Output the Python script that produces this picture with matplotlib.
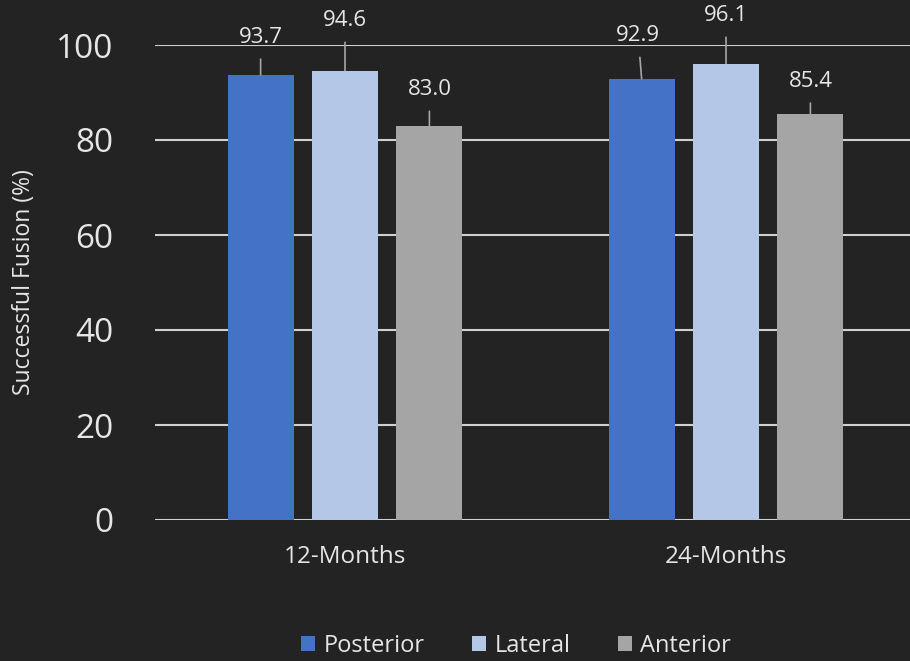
import matplotlib
matplotlib.use("Agg")
import matplotlib.pyplot as plt
from matplotlib.patches import Patch
import numpy as np

# fusion rates by approach at each follow-up
periods = ['12-Months', '24-Months']
series = ['Posterior', 'Lateral', 'Anterior']
posterior = [93.7, 92.9]
lateral = [94.6, 96.1]
anterior = [83.0, 85.4]

BG = '#232323'
TXT = '#e6e6e6'
GRID = '#d0d0d0'
LEADER = '#a6a6a6'
colors = ['#4472C4', '#B4C7E7', '#A5A5A5']

# label offsets (points) from each bar top, order: series x period
label_offsets = [
    [(0, 23), (-2.5, 27)],
    [(0, 32), (0, 30.6)],
    [(0, 22), (0, 19.7)],
]

plt.rcParams['font.family'] = ['Open Sans', 'DejaVu Sans']

fig = plt.figure(figsize=(9.1, 6.61), dpi=100, facecolor=BG)
ax = fig.add_axes([155 / 910, 1 - 520 / 661, 755 / 910, 475 / 661])
ax.set_facecolor(BG)

x = np.arange(len(periods))
width = 0.173
step = 0.2215
values = [posterior, lateral, anterior]
for i, (name, vals) in enumerate(zip(series, values)):
    xs = x + (i - 1) * step
    ax.bar(xs, vals, width, color=colors[i], label=name, zorder=3)
    for j, v in enumerate(vals):
        dx, dy = label_offsets[i][j]
        ax.annotate('%.1f' % v, xy=(xs[j], v), xytext=(dx, dy),
                    textcoords='offset points', ha='center', va='baseline',
                    fontsize=16, color=TXT, annotation_clip=False,
                    arrowprops=dict(arrowstyle='-', color=LEADER, lw=1.2,
                                    shrinkA=6, shrinkB=0))

ax.set_xlim(-0.4987, 1.4829)
ax.set_ylim(0, 100)
ax.set_yticks(range(0, 101, 20))
ax.yaxis.grid(True, color=GRID, linewidth=1.5, zorder=0)
ax.set_axisbelow(True)
for s in ax.spines.values():
    s.set_visible(False)
ax.set_xticks(x)
ax.set_xticklabels(periods)
ax.tick_params(axis='x', length=0, pad=18, labelsize=17.5, colors=TXT)
ax.tick_params(axis='y', length=0, pad=30, labelsize=24, colors=TXT)
ax.set_ylabel('Successful Fusion (%)', fontsize=16.5, color=TXT)
ax.yaxis.set_label_coords(-0.158, 0.5)

handles = [Patch(facecolor=c, edgecolor='none') for c in colors]
fig.legend(handles, series, loc='lower center', bbox_to_anchor=(0.567, -0.027),
           ncol=3, frameon=False, fontsize=17, labelcolor=TXT,
           handlelength=0.6, handleheight=0.6, handletextpad=0.35,
           columnspacing=2.0)

fig.savefig('out.png', dpi=100, facecolor=BG)
